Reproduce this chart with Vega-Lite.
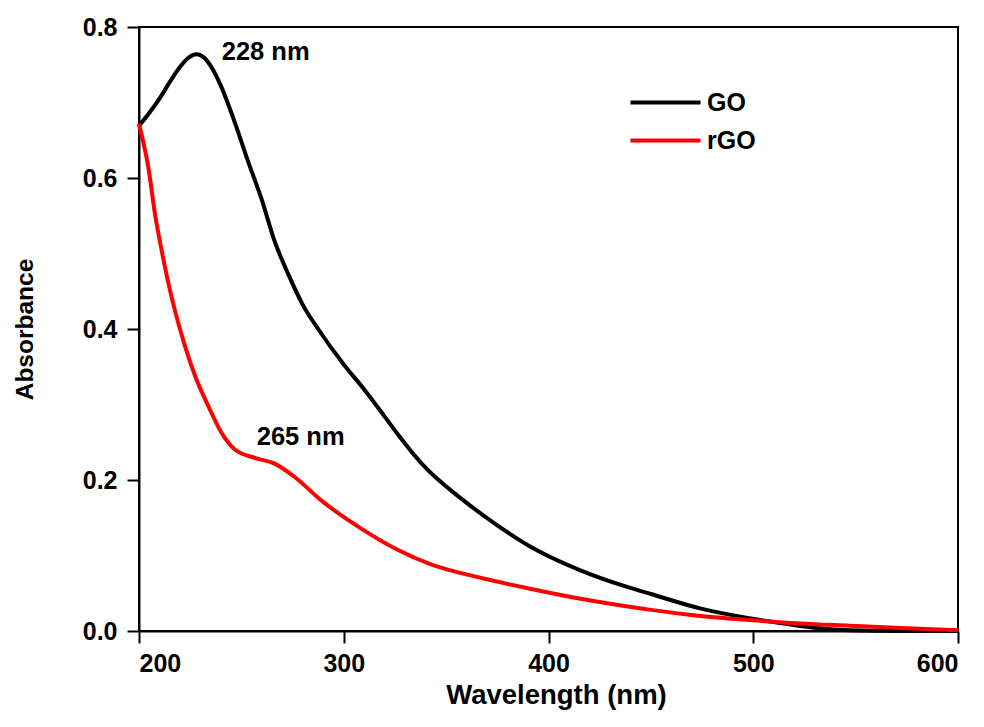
{
  "$schema": "https://vega.github.io/schema/vega-lite/v6.json",
  "autosize": "none",
  "padding": {"left": 139, "top": 27, "right": 26, "bottom": 96},
  "width": 819,
  "height": 604,
  "background": "white",
  "config": {
    "view": {"stroke": "black", "strokeWidth": 2},
    "font": "Liberation Sans",
    "axis": {
      "grid": false,
      "domainColor": "black",
      "domainWidth": 2,
      "tickColor": "black",
      "tickWidth": 2,
      "tickSize": 12,
      "labelFont": "Liberation Sans",
      "labelFontWeight": "bold",
      "labelFontSize": 25,
      "labelColor": "black",
      "titleFont": "Liberation Sans",
      "titleFontWeight": "bold",
      "titleColor": "black"
    },
    "legend": {
      "orient": "none",
      "legendX": 514,
      "legendY": 63,
      "symbolType": "M-3.5,0H3.5",
      "symbolSize": 400,
      "symbolStrokeWidth": 4,
      "labelFont": "Liberation Sans",
      "labelFontWeight": "bold",
      "labelFontSize": 25,
      "labelColor": "black",
      "labelOffset": 29,
      "rowPadding": 12,
      "padding": 0
    }
  },
  "layer": [
    {
      "data": {
        "values": [
          {"wl": 200, "abs": 0.669, "sample": "GO"},
          {"wl": 205, "abs": 0.686, "sample": "GO"},
          {"wl": 210, "abs": 0.705, "sample": "GO"},
          {"wl": 215, "abs": 0.727, "sample": "GO"},
          {"wl": 220, "abs": 0.747, "sample": "GO"},
          {"wl": 224, "abs": 0.759, "sample": "GO"},
          {"wl": 228, "abs": 0.764, "sample": "GO"},
          {"wl": 232, "abs": 0.759, "sample": "GO"},
          {"wl": 236, "abs": 0.744, "sample": "GO"},
          {"wl": 240, "abs": 0.722, "sample": "GO"},
          {"wl": 247, "abs": 0.672, "sample": "GO"},
          {"wl": 253, "abs": 0.624, "sample": "GO"},
          {"wl": 260, "abs": 0.571, "sample": "GO"},
          {"wl": 266, "abs": 0.518, "sample": "GO"},
          {"wl": 273, "abs": 0.472, "sample": "GO"},
          {"wl": 280, "abs": 0.432, "sample": "GO"},
          {"wl": 288, "abs": 0.398, "sample": "GO"},
          {"wl": 300, "abs": 0.353, "sample": "GO"},
          {"wl": 310, "abs": 0.320, "sample": "GO"},
          {"wl": 320, "abs": 0.284, "sample": "GO"},
          {"wl": 326, "abs": 0.262, "sample": "GO"},
          {"wl": 339, "abs": 0.219, "sample": "GO"},
          {"wl": 358, "abs": 0.174, "sample": "GO"},
          {"wl": 375, "abs": 0.140, "sample": "GO"},
          {"wl": 391, "abs": 0.112, "sample": "GO"},
          {"wl": 415, "abs": 0.081, "sample": "GO"},
          {"wl": 440, "abs": 0.057, "sample": "GO"},
          {"wl": 450, "abs": 0.049, "sample": "GO"},
          {"wl": 474, "abs": 0.030, "sample": "GO"},
          {"wl": 498, "abs": 0.017, "sample": "GO"},
          {"wl": 515, "abs": 0.010, "sample": "GO"},
          {"wl": 531, "abs": 0.004, "sample": "GO"},
          {"wl": 547, "abs": 0.001, "sample": "GO"},
          {"wl": 570, "abs": 0.000, "sample": "GO"},
          {"wl": 600, "abs": 0.000, "sample": "GO"},
          {"wl": 200, "abs": 0.672, "sample": "rGO"},
          {"wl": 204.5, "abs": 0.615, "sample": "rGO"},
          {"wl": 208, "abs": 0.549, "sample": "rGO"},
          {"wl": 211, "abs": 0.505, "sample": "rGO"},
          {"wl": 214, "abs": 0.465, "sample": "rGO"},
          {"wl": 217.5, "abs": 0.425, "sample": "rGO"},
          {"wl": 222.5, "abs": 0.377, "sample": "rGO"},
          {"wl": 227.5, "abs": 0.337, "sample": "rGO"},
          {"wl": 234, "abs": 0.297, "sample": "rGO"},
          {"wl": 240, "abs": 0.264, "sample": "rGO"},
          {"wl": 247, "abs": 0.240, "sample": "rGO"},
          {"wl": 257, "abs": 0.229, "sample": "rGO"},
          {"wl": 266, "abs": 0.222, "sample": "rGO"},
          {"wl": 276, "abs": 0.204, "sample": "rGO"},
          {"wl": 289, "abs": 0.173, "sample": "rGO"},
          {"wl": 309.5, "abs": 0.134, "sample": "rGO"},
          {"wl": 326, "abs": 0.108, "sample": "rGO"},
          {"wl": 342, "abs": 0.089, "sample": "rGO"},
          {"wl": 354, "abs": 0.079, "sample": "rGO"},
          {"wl": 366, "abs": 0.071, "sample": "rGO"},
          {"wl": 391, "abs": 0.056, "sample": "rGO"},
          {"wl": 415, "abs": 0.043, "sample": "rGO"},
          {"wl": 450, "abs": 0.028, "sample": "rGO"},
          {"wl": 474, "abs": 0.020, "sample": "rGO"},
          {"wl": 498, "abs": 0.0146, "sample": "rGO"},
          {"wl": 523, "abs": 0.010, "sample": "rGO"},
          {"wl": 547, "abs": 0.007, "sample": "rGO"},
          {"wl": 572, "abs": 0.004, "sample": "rGO"},
          {"wl": 600, "abs": 0.001, "sample": "rGO"}
        ]
      },
      "mark": {"type": "line", "strokeWidth": 4, "interpolate": "monotone"},
      "encoding": {
        "x": {
          "field": "wl", "type": "quantitative",
          "scale": {"domain": [200, 600], "nice": false},
          "axis": {"values": [200, 300, 400, 500, 600], "title": "Wavelength (nm)", "titleFontSize": 27.5, "titleX": 417, "labelPadding": 8, "titlePadding": 5}
        },
        "y": {
          "field": "abs", "type": "quantitative",
          "scale": {"domain": [0, 0.8], "nice": false},
          "axis": {"values": [0, 0.2, 0.4, 0.6, 0.8], "format": ".1f", "title": "Absorbance", "titleFontSize": 24.5, "labelPadding": 10, "titlePadding": 45}
        },
        "color": {
          "field": "sample", "type": "nominal",
          "scale": {"domain": ["GO", "rGO"], "range": ["#000000", "#ff0000"]},
          "legend": {"title": null}
        }
      }
    },
    {
      "data": {
        "values": [
          {"wl": 240.4, "abs": 0.767, "label": "228 nm"},
          {"wl": 257.5, "abs": 0.2565, "label": "265 nm"}
        ]
      },
      "mark": {"type": "text", "align": "left", "baseline": "middle", "font": "Liberation Sans", "fontWeight": "bold", "fontSize": 25.5, "color": "black"},
      "encoding": {
        "x": {"field": "wl", "type": "quantitative"},
        "y": {"field": "abs", "type": "quantitative"},
        "text": {"field": "label"}
      }
    }
  ]
}
